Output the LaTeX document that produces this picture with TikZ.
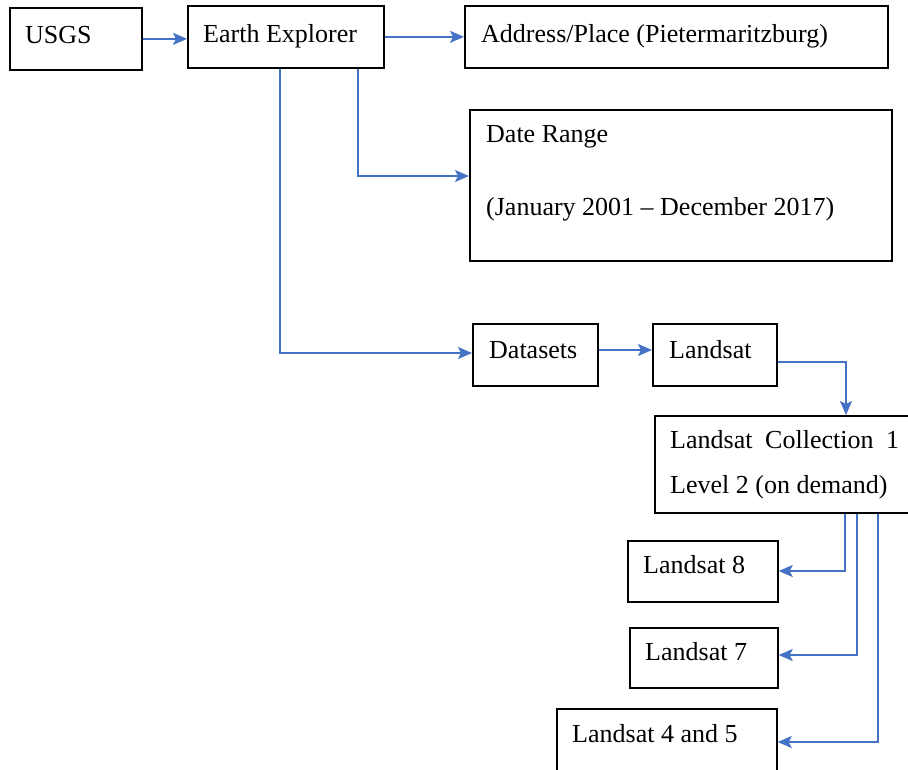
\documentclass[tikz,border=0pt]{standalone}
\usepackage{fontspec}
\setmainfont{Liberation Serif}
\usetikzlibrary{arrows.meta,calc}
\definecolor{arrblue}{RGB}{68,114,196}
\tikzset{
  box/.style={draw=black, line width=1.7pt, rectangle, anchor=north west, inner sep=0pt},
  txt/.style={anchor=base west, inner sep=0pt, font=\fontsize{26}{30}\selectfont},
  arr/.style={draw=arrblue, line width=1.6pt, -{Stealth[length=14pt,width=12pt,inset=3pt]}}
}
\begin{document}
\begin{tikzpicture}[x=1pt,y=-1pt]
\useasboundingbox (0,0) rectangle (908,769);
\clip (0,0) rectangle (908,769);
% boxes
\node[box, minimum width=132pt, minimum height=62pt] (usgs) at (9,7) {};
\node[box, minimum width=196pt, minimum height=62pt] (ee) at (187,5) {};
\node[box, minimum width=423pt, minimum height=62pt] (addr) at (464,5) {};
\node[box, minimum width=422pt, minimum height=151pt] (date) at (469,109) {};
\node[box, minimum width=125pt, minimum height=62pt] (ds) at (472,323) {};
\node[box, minimum width=124pt, minimum height=62pt] (ls) at (652,323) {};
\node[box, minimum width=262pt, minimum height=97pt] (coll) at (654,415) {};
\node[box, minimum width=150pt, minimum height=61pt] (l8) at (627,540) {};
\node[box, minimum width=148pt, minimum height=60pt] (l7) at (629,627) {};
\node[box, minimum width=220pt, minimum height=72pt] (l45) at (556,708) {};
% texts
\node[txt] (tusgs) at (25,43) {USGS};
\node[txt] (tee) at (203,42) {Earth Explorer};
\node[txt] (taddr) at (481,42) {Address/Place (Pietermaritzburg)};
\node[txt] (tdate1) at (486,142) {Date Range};
\node[txt] (tdate2) at (486,215) {(January 2001 – December 2017)};
\node[txt] (tds) at (489,358) {Datasets};
\node[txt] (tls) at (669,358) {Landsat};
\node[txt] (tcoll1) at (670,448) {\makebox[229pt][s]{Landsat Collection 1}};
\node[txt] (tcoll2) at (670,493) {Level 2 (on demand)};
\node[txt] (tl8) at (643,573) {Landsat 8};
\node[txt] (tl7) at (645,660) {Landsat 7};
\node[txt] (tl45) at (572,742) {Landsat 4 and 5};
% connectors
\draw[arr] (usgs.east) -- (usgs.east -| ee.west);
\draw[arr] (ee.east) -- (ee.east -| addr.west);
\draw[arr] ($(ee.south west)+(171,0)$) |- ($(date.north west)+(0,67)$);
\draw[arr] ($(ee.south west)+(93,0)$) |- ($(ds.north west)+(0,30)$);
\draw[arr] ($(ds.north east)+(0,27)$) -- ($(ls.north west)+(0,27)$);
\draw[arr] ($(ls.north east)+(0,39)$) -| ($(coll.north west)+(192,0)$);
\draw[arr] ($(coll.south west)+(191,0)$) |- ($(l8.north east)+(0,31)$);
\draw[arr] ($(coll.south west)+(203,0)$) |- ($(l7.north east)+(0,28)$);
\draw[arr] ($(coll.south west)+(224,0)$) |- ($(l45.north east)+(0,34)$);
\end{tikzpicture}
\end{document}
